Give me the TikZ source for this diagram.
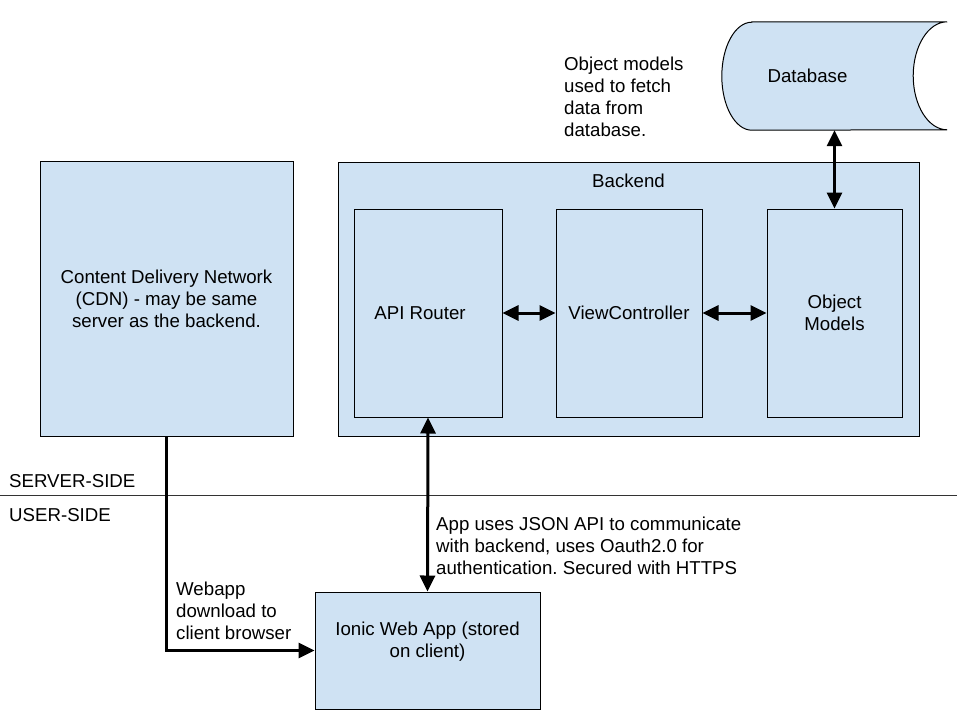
\documentclass[tikz,border=0pt]{standalone}
\usepackage{fontspec}
\setmainfont{Liberation Sans}
\usetikzlibrary{arrows.meta}

\definecolor{boxblue}{HTML}{CFE2F3}
\frenchspacing

\tikzset{
  box/.style={draw=black,fill=boxblue,line width=1pt,inner sep=0pt,align=center},
  txt/.style={inner sep=0pt,align=left},
  link/.style={line width=3pt,{Triangle[length=16pt,width=15pt]}-{Triangle[length=16pt,width=15pt]}},
  push/.style={line width=3pt,-{Triangle[length=16pt,width=15pt]}},
  divider/.style={line width=1pt,color=black!80}
}

\begin{document}
\begin{tikzpicture}[x=1pt,y=-1pt,font=\fontsize{18.67}{22}\selectfont]
      \useasboundingbox (0,0) rectangle (960,720);

      % server side
      \node [box,minimum width=253pt,minimum height=275pt] (cdn) at (166.5,298.5) {Content Delivery Network\\(CDN) - may be same\\server as the backend.};
      \node [box,minimum width=581pt,minimum height=274pt] (backend) at (628.5,299) {};
      \node [txt] (backendlabel) at (628.5,181) {Backend};
      \node [box,minimum width=148pt,minimum height=208pt,label={[txt,xshift=-8pt]center:API Router}] (api) at (428,313) {};
      \node [box,minimum width=146pt,minimum height=208pt] (view) at (629,313) {ViewController};
      \node [box,minimum width=135pt,minimum height=208pt] (obj) at (834.5,313) {Object\\Models};

      % database
      \node [inner sep=0pt,minimum width=225pt,minimum height=108pt] (db) at (834.5,76) {};
      \draw [line width=1pt,fill=boxblue] ([xshift=30pt]db.north west) -- (db.north east)
            arc [start angle=90,end angle=270,x radius=34pt,y radius=54pt]
            -- ([xshift=30pt]db.south west)
            arc [start angle=270,end angle=90,x radius=30pt,y radius=54pt] -- cycle;
      \node [txt] (dblabel) at (807.5,76) {Database};
      \node [txt,anchor=west] (note) at (564,97) {Object models\\used to fetch\\data from\\database.};

      % user side
      \draw [divider] (0,495) -- (957,495);
      \node [txt,anchor=base west] (server) at (9,487) {SERVER-SIDE};
      \node [txt,anchor=base west] (user) at (9,521) {USER-SIDE};

      \node [box,minimum width=225pt,minimum height=117pt,label={[txt,align=center,yshift=8.5pt]center:Ionic Web App (stored\\on client)}] (ionic) at (427.5,650.5) {};
      \node [txt,anchor=west] (webapp) at (176,611) {Webapp\\download to\\client browser};
      \node [txt,anchor=west] (json) at (436,546) {App uses JSON API to communicate\\with backend, uses Oauth2.0 for\\authentication. Secured with HTTPS};

      % connectors
      \draw [link] (api.east) -- (view.west);
      \draw [link] (view.east) -- (obj.west);
      \draw [link] (db.south) -- (obj.north);
      \draw [link] (api.south) -- (ionic.north);
      \draw [push] (cdn.south) |- (ionic.west);

\end{tikzpicture}
\end{document}
